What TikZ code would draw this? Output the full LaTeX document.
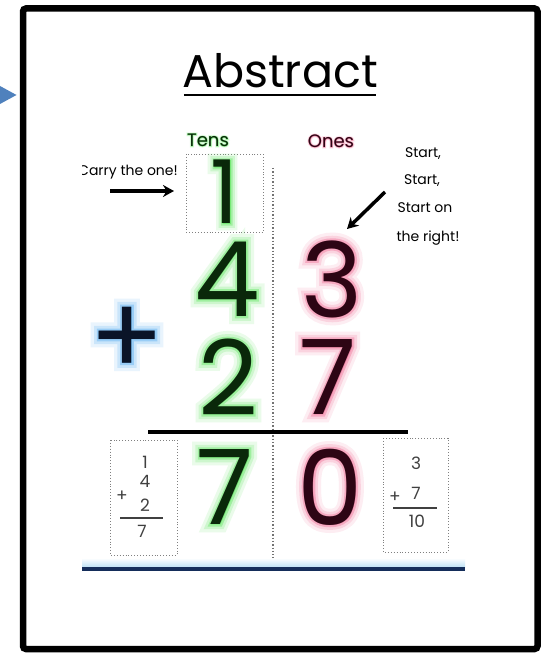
\documentclass[tikz,border=0pt]{standalone}
\usepackage{fontspec}
\setmainfont{Poppins}
\newfontfamily\glowwide{Poppins}[FakeBold=15]
\newfontfamily\glowmid{Poppins}[FakeBold=9]
\newfontfamily\glownarrow{Poppins}[FakeBold=4]
\usetikzlibrary{arrows.meta,calc}
\definecolor{officeblue}{RGB}{79,129,189}
\definecolor{tensglow}{RGB}{90,230,90}
\definecolor{tensink}{RGB}{10,40,10}
\definecolor{onesglow}{RGB}{240,110,150}
\definecolor{onesink}{RGB}{45,5,20}
\definecolor{plusglow}{RGB}{80,170,240}
\definecolor{plusink}{RGB}{10,20,40}
\definecolor{navyline}{RGB}{20,45,90}
\definecolor{skyline}{RGB}{190,225,245}
% #1 position, #2 glow colour, #3 ink colour, #4 size, #5 text, #6 name
\newcommand\glowtext[6]{%
  \node[inner sep=0pt,font={\glowwide\fontsize{#4}{#4}\selectfont},text=#2,text opacity=0.12] at (#1) {#5};
  \node[inner sep=0pt,font={\glowmid\fontsize{#4}{#4}\selectfont},text=#2,text opacity=0.2] at (#1) {#5};
  \node[inner sep=0pt,font={\glownarrow\fontsize{#4}{#4}\selectfont},text=#2,text opacity=0.4] at (#1) {#5};
  \node[inner sep=0pt,font={\fontsize{#4}{#4}\selectfont},text=#3] (#6) at (#1) {#5};}
\begin{document}
\begin{tikzpicture}[x=1pt,y=-1pt,
  frame/.style={draw=black,line width=6.5pt,rounded corners=3pt},
  dotbox/.style={draw=black!50,dotted,line width=0.9pt},
  hand/.style={font=\fontsize{14}{16}\selectfont,inner sep=0pt},
  boxdigit/.style={font=\fontsize{17}{17}\selectfont,inner sep=0pt,text=black!75},
  bigarrow/.style={line width=3.5pt,-{Stealth[length=11pt,width=12pt]}}]
\useasboundingbox (0,0) rectangle (543,655);
\fill[white] (0,0) rectangle (543,655);
% frame and pointer
\draw[frame] (23,8.5) rectangle (537.5,649);
\fill[officeblue] (0,86) -- (16.5,95) -- (0,104) -- cycle;
% title
\node[font=\fontsize{46}{46}\selectfont,inner sep=0pt,anchor=base] (title) at (280,88) {Abstract};
\draw[line width=2pt] (title.base west) ++(2,7) coordinate (ul1) -- ($(title.base east)+(-2,7)$) coordinate (ul2);
% picture
\begin{scope}
\clip (82,112) rectangle (466,575);
\node[hand,anchor=east] (carry) at (178,172) {Carry the one!};
\end{scope}
\coordinate (carryA) at (110,191);
\coordinate (carryB) at (174,191);
\draw[bigarrow] (carryA) -- (carryB);
\node[hand] (s1) at (423,154) {Start,};
\node[hand] (s2) at (422,181) {Start,};
\node[hand] (s3) at (425,208) {Start on};
\node[hand] (s4) at (428,238) {the right!};
\coordinate (startA) at (385,192);
\coordinate (startB) at (347,229);
\draw[bigarrow] (startA) -- (startB);
% column headers
\glowtext{208,140}{tensglow}{tensink}{18}{Tens}{tens}
\glowtext{331,141}{onesglow}{onesink}{18}{Ones}{ones}
% dotted divider and carry box
\coordinate (divT) at (273,168);
\coordinate (divB) at (273,560);
\draw[black!55,dotted,line width=1.3pt] (divT) -- (divB);
\draw[dotbox] (186,154) rectangle (263,232);
% digits
\glowtext{225,192}{tensglow}{tensink}{88}{1}{c1}
\glowtext{227,279}{tensglow}{tensink}{104}{4}{d4}
\glowtext{332,279}{onesglow}{onesink}{104}{3}{d3}
\glowtext{127,341}{plusglow}{plusink}{110}{+}{plus}
\glowtext{228,377}{tensglow}{tensink}{104}{2}{d2}
\glowtext{328,377}{onesglow}{onesink}{104}{7}{d7}
\coordinate (sumA) at (148,432);
\coordinate (sumB) at (408,432);
\draw[line width=4pt] (sumA) -- (sumB);
\glowtext{225,487}{tensglow}{tensink}{104}{7}{r7}
\glowtext{330,487}{onesglow}{onesink}{104}{0}{r0}
% left working box
\draw[dotbox] (110,440) rectangle (177,555);
\node[boxdigit] (l1) at (145,462) {1};
\node[boxdigit] (l4) at (145,481) {4};
\node[boxdigit] (lp) at (122,496) {+};
\node[boxdigit] (l2) at (145,505) {2};
\coordinate (llA) at (120,518);
\coordinate (llB) at (163,518);
\draw[line width=1.6pt,black!75] (llA) -- (llB);
\node[boxdigit] (l7) at (142,531) {7};
% right working box
\draw[dotbox] (383,438) rectangle (448,552);
\node[boxdigit] (r3) at (416,463) {3};
\node[boxdigit] (rp) at (395,497) {+};
\node[boxdigit] (rr7) at (416,493) {7};
\coordinate (rlA) at (393,508);
\coordinate (rlB) at (437,508);
\draw[line width=1.6pt,black!75] (rlA) -- (rlB);
\node[boxdigit] (r10) at (417,521) {10};
% bottom blue band
\shade[top color=white,bottom color=skyline] (82,558) rectangle (465,567);
\fill[navyline] (82,567) rectangle (465,571);
\end{tikzpicture}
\end{document}
